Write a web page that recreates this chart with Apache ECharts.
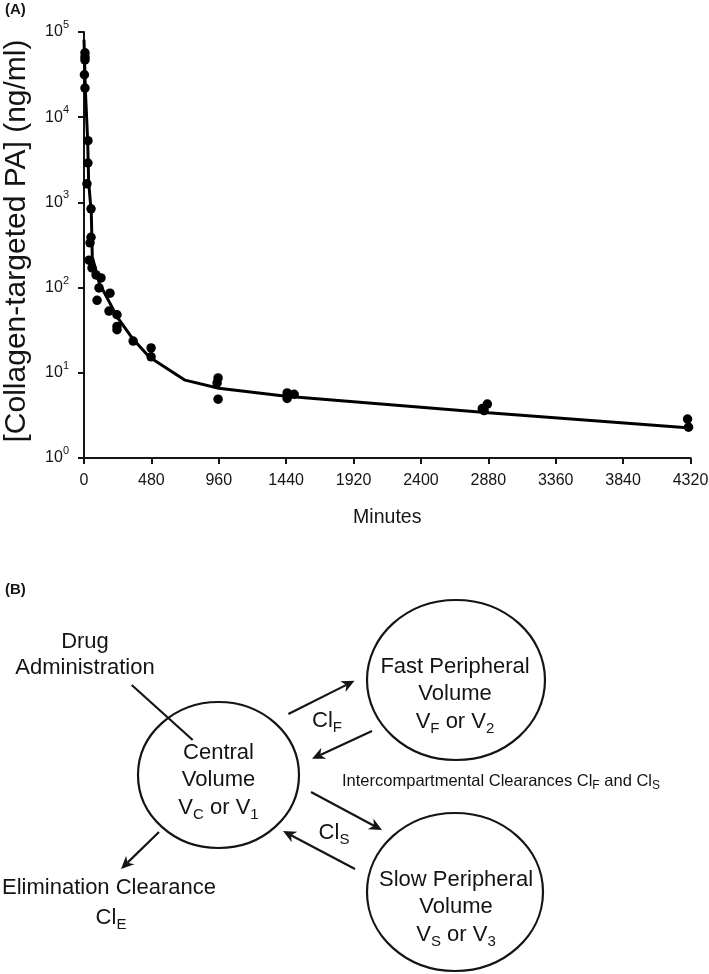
<!DOCTYPE html>
<html>
<head>
<meta charset="utf-8">
<script src="https://cdn.jsdelivr.net/npm/echarts@6/dist/echarts.min.js"></script>
<style>
html,body{margin:0;padding:0;background:#ffffff;}
#chart{width:709px;height:974px;}
</style>
</head>
<body>
<div id="chart"></div>
<script>
// ---------- data ----------
const xTickValues = [0, 480, 960, 1440, 1920, 2400, 2880, 3360, 3840, 4320];
const yTickExponents = [0, 1, 2, 3, 4, 5];

// observed concentrations (minutes, ng/ml)
const obsMinutes = [7, 7, 7, 3, 7, 28, 28, 21, 50, 50, 43, 36, 57, 86, 121, 107, 185, 93, 178, 235, 235, 235, 350, 478, 478, 955, 948, 955, 1447, 1447, 1497, 2873, 2837, 2850, 4299, 4306];
const obsConc = [57000, 51000, 47000, 31500, 22000, 5300, 2900, 1650, 840, 390, 335, 210, 170, 141, 130, 99, 86, 71, 53, 48, 35, 32, 23.6, 19.6, 15.4, 8.7, 7.6, 4.9, 5.8, 5.0, 5.6, 4.3, 3.8, 3.6, 2.87, 2.3];

// fitted model curve
const fitMinutes = [0, 9, 26, 33, 52, 59, 109, 166, 237, 344, 465, 720, 960, 1440, 2880, 4320];
const fitConc = [81000, 22000, 5400, 1750, 750, 230, 113, 75, 45, 25.5, 15.3, 8.2, 6.6, 5.3, 3.4, 2.25];

// ---------- build ----------
const FONT = 'Liberation Sans, Arial, Helvetica, sans-serif';
const INK = '#141414';

const obsData = obsMinutes.map((m, i) => [m, obsConc[i]]);
const fitData = fitMinutes.map((m, i) => [m, fitConc[i]]);

function txt(x, y, text, size, extra) {
  const subSize = Math.round(size * 0.7);
  const supPad = Math.round(size * 0.6);
  return Object.assign({
    type: 'text', x: x, y: y, z: 10,
    style: {
      text: text,
      fill: INK,
      fontSize: size,
      fontFamily: FONT,
      align: 'center',
      verticalAlign: 'middle',
      rich: {
        s: { fontSize: subSize, fontFamily: FONT, fill: INK, padding: [supPad, 0, 0, 0] }
      }
    }
  }, extra || {});
}

function ellipse(cx, cy, rx, ry) {
  return { type: 'ellipse', z: 5, shape: { cx: cx, cy: cy, rx: rx, ry: ry },
    style: { fill: 'none', stroke: INK, lineWidth: 2.2 } };
}

function plainLine(x1, y1, x2, y2) {
  return { type: 'line', z: 5, shape: { x1: x1, y1: y1, x2: x2, y2: y2 },
    style: { stroke: INK, lineWidth: 2.2 } };
}

function arrow(x1, y1, x2, y2) {
  const a = Math.atan2(y2 - y1, x2 - x1);
  const dx = Math.cos(a), dy = Math.sin(a);
  const px = -dy, py = dx;
  const L = 13, W = 6;
  const bx = x2 - L * dx, by = y2 - L * dy;
  const nx = x2 - L * 0.7 * dx, ny = y2 - L * 0.7 * dy;
  return [
    { type: 'line', z: 5, shape: { x1: x1, y1: y1, x2: nx, y2: ny },
      style: { stroke: INK, lineWidth: 2.2 } },
    { type: 'polygon', z: 6, shape: { points: [[x2, y2], [bx + W * px, by + W * py], [nx, ny], [bx - W * px, by - W * py]] },
      style: { fill: INK } }
  ];
}

const diagram = [].concat(
  [
    { type: 'text', x: 5, y: 10, style: { text: '(A)', fill: INK, fontSize: 15, fontWeight: 'bold', fontFamily: FONT, align: 'left', verticalAlign: 'middle' } },
    { type: 'text', x: 5, y: 590, style: { text: '(B)', fill: INK, fontSize: 15, fontWeight: 'bold', fontFamily: FONT, align: 'left', verticalAlign: 'middle' } },
    ellipse(218.5, 775, 80.5, 73),
    ellipse(456, 680, 89, 80),
    ellipse(455, 892, 88, 79),
    txt(218.5, 753, 'Central', 22),
    txt(218.5, 780, 'Volume', 22),
    txt(218.5, 808, 'V{s|C} or V{s|1}', 22),
    txt(455, 667, 'Fast Peripheral', 22),
    txt(455, 694, 'Volume', 22),
    txt(455, 722, 'V{s|F} or V{s|2}', 22),
    txt(456, 880, 'Slow Peripheral', 22),
    txt(456, 907, 'Volume', 22),
    txt(456, 935, 'V{s|S} or V{s|3}', 22),
    txt(85, 642, 'Drug', 22),
    txt(85, 668, 'Administration', 22),
    txt(109, 888, 'Elimination Clearance', 22),
    txt(111, 918, 'Cl{s|E}', 22),
    txt(327, 721, 'Cl{s|F}', 22),
    txt(334, 833, 'Cl{s|S}', 22),
    txt(501, 781, 'Intercompartmental Clearances Cl{s|F} and Cl{s|S}', 16.5),
    plainLine(131.7, 685, 192.7, 740)
  ],
  arrow(288.4, 714, 354.5, 680.8),
  arrow(372, 731, 312, 758.7),
  arrow(311, 792, 382, 830),
  arrow(355, 869, 283, 831),
  arrow(159, 832, 121, 869)
);

const chart = echarts.init(document.getElementById('chart'), null, { renderer: 'canvas' });
chart.setOption({
  backgroundColor: '#ffffff',
  animation: false,
  textStyle: { fontFamily: FONT },
  grid: { left: 84, right: 18.5, top: 32, bottom: 516, outerBoundsMode: 'none', containLabel: false },
  xAxis: {
    type: 'value', min: 0, max: 4320, interval: 480,
    name: 'Minutes', nameLocation: 'middle', nameGap: 50,
    nameTextStyle: { color: INK, fontSize: 19.5, fontFamily: FONT },
    axisLine: { show: true, lineStyle: { color: INK, width: 2 } },
    axisTick: { show: true, length: 6, lineStyle: { color: INK, width: 2 } },
    axisLabel: { color: INK, fontSize: 16, fontFamily: FONT, margin: 15, showMaxLabel: true, showMinLabel: true, hideOverlap: false,
      formatter: function (v) { return xTickValues.indexOf(v) >= 0 ? String(v) : ''; } },
    splitLine: { show: false }
  },
  yAxis: {
    type: 'log', logBase: 10, min: Math.pow(10, yTickExponents[0]), max: Math.pow(10, yTickExponents[yTickExponents.length - 1]),
    name: '[Collagen-targeted PA] (ng/ml)', nameLocation: 'middle', nameGap: 52,
    nameTextStyle: { color: INK, fontSize: 30, fontFamily: FONT, padding: [0, 0, 0, 8] },
    axisLine: { show: true, lineStyle: { color: INK, width: 2 } },
    axisTick: { show: true, length: 6, lineStyle: { color: INK, width: 2 } },
    minorTick: { show: false },
    axisLabel: {
      color: INK, fontSize: 16, fontFamily: FONT, margin: 15, showMaxLabel: true, showMinLabel: true,
      formatter: function (v) { return '10{sup|' + Math.round(Math.log10(v)) + '}'; },
      rich: { sup: { fontSize: 11, fontFamily: FONT, color: INK, padding: [0, 0, 14, 0] } }
    },
    splitLine: { show: false }
  },
  series: [
    {
      type: 'line', name: 'fit', data: fitData, showSymbol: false, smooth: false,
      lineStyle: { color: '#000', width: 3 }, z: 3, silent: true
    },
    {
      type: 'scatter', name: 'observed', data: obsData, symbol: 'circle', symbolSize: 9.5,
      itemStyle: { color: '#000', opacity: 1 }, z: 4
    }
  ],
  graphic: diagram
});
</script>
</body>
</html>
